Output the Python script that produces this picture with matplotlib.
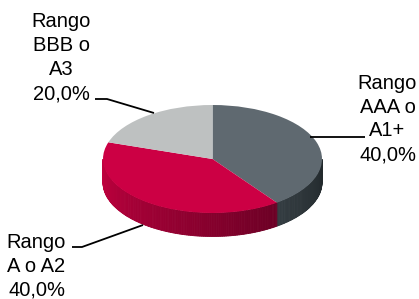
import matplotlib.pyplot as plt
import numpy as np
from matplotlib.colors import to_rgb

plt.rcParams['font.family'] = ['Liberation Sans', 'DejaVu Sans']

# data
categories = [["Rango", "AAA o", "A1+"], ["Rango", "A o A2"], ["Rango", "BBB o", "A3"]]
shares = [40.0, 40.0, 20.0]
top_colors = ["#5f6970", "#cc0044", "#bec1c1"]
side_light = ["#343d42", "#c4003f", "#a0a3a3"]
side_dark = ["#22292c", "#6c0025", "#808383"]

# label layout in pixels: centre x, first baseline, line step, leader path
label_pos = [(387.5, 89, 23.7, [(310, 137), (365, 137)]),
             (36.5, 247.5, 24.2, [(143, 225), (82, 247), (72, 247)]),
             (61.5, 27, 24, [(154, 113), (107, 99), (95, 99)])]

W, H = 419, 299
fig = plt.figure(figsize=(W / 100, H / 100), dpi=100)
ax = fig.add_axes([0, 0, 1, 1])

# ellipse of the pie top in pixels
cx, cy, rx, ry, depth_px = 212.5, 159, 109.5, 54, 23.5
depth = depth_px / ry


def to_data(x, y):
    return (x - cx) / rx, (cy - y) / ry


fracs = np.array(shares) / sum(shares)
bounds = 90 - 360 * np.concatenate([[0], np.cumsum(fracs)])

# front side walls, shaded along the arc
for i in range(len(shares)):
    lo, hi = max(bounds[i + 1], -180), min(bounds[i], 0)
    if lo >= hi:
        continue
    c1, c2 = np.array(to_rgb(side_light[i])), np.array(to_rgb(side_dark[i]))
    steps = np.linspace(lo, hi, int(hi - lo) + 2)
    for k in range(len(steps) - 1):
        t = np.radians(np.linspace(steps[k], steps[k + 1], 4))
        xs = np.concatenate([np.cos(t), np.cos(t[::-1])])
        ys = np.concatenate([np.sin(t), np.sin(t[::-1]) - depth])
        f = (0.5 * (steps[k] + steps[k + 1]) - lo) / (hi - lo)
        col = c1 * (1 - f) + c2 * f
        ax.fill(xs, ys, color=col, lw=0.6, zorder=0.5)

# top face
ax.pie(shares, colors=top_colors, startangle=90, counterclock=False,
       radius=1, center=(0, 0), wedgeprops=dict(linewidth=0))
ax.set_aspect('auto')
ax.set_xlim((0 - cx) / rx, (W - cx) / rx)
ax.set_ylim((cy - H) / ry, cy / ry)
ax.axis('off')

# labels and leader lines
for lines, share, (lx, ly, step, path) in zip(categories, shares, label_pos):
    text_lines = lines + [f"{share:.1f}".replace(".", ",") + "%"]
    for j, s in enumerate(text_lines):
        fig.text(lx / W, 1 - (ly + j * step) / H, s, ha='center', va='baseline',
                 fontsize=14.5, color='black')
    px = [to_data(x, y) for x, y in path]
    ax.plot([p[0] for p in px], [p[1] for p in px], color='black', lw=1.3,
            solid_capstyle='butt', zorder=3)

fig.savefig('out.png', dpi=100)
